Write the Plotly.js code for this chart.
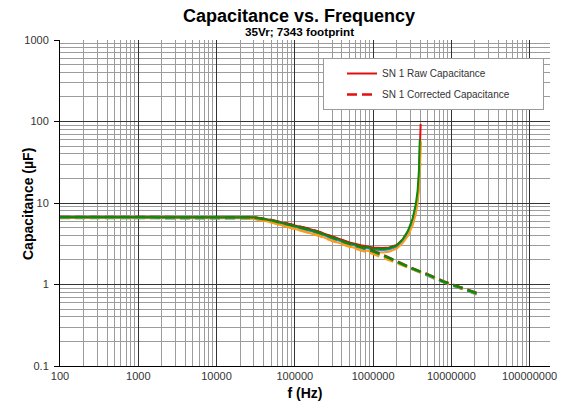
<!DOCTYPE html>
<html>
<head>
<meta charset="utf-8">
<script src="https://cdn.plot.ly/plotly-3.0.1.min.js"></script>
<style>html,body{margin:0;padding:0;background:#fff;}#chart{width:588px;height:416px;}</style>
</head>
<body>
<div id="chart"></div>
<script>
// Raw capacitance (uF) vs frequency (Hz), four samples
const freqRaw = [100, 1000, 10000, 20000, 30000, 50000, 70000, 100000, 150000, 200000, 300000, 500000, 700000, 1000000, 1300000, 1600000, 2000000, 2400000, 2800000, 3200000, 3500000, 3700000, 3850000, 3950000];
const rawRed    = [6.75, 6.75, 6.75, 6.74, 6.68, 6.2, 5.75, 5.35, 4.85, 4.45, 3.87, 3.27, 3.03, 2.84, 2.8, 2.84, 3.05, 3.6, 4.5, 6.1, 8.5, 12, 20, 38];
const rawBlue   = [6.55, 6.55, 6.55, 6.54, 6.5, 6.05, 5.6, 5.1, 4.6, 4.25, 3.7, 3.12, 2.88, 2.68, 2.63, 2.68, 2.9, 3.4, 4.2, 5.7, 7.9, 11, 17, 25];
const rawOrange = [6.6, 6.6, 6.6, 6.55, 6.4, 5.8, 5.3, 4.8, 4.35, 4.0, 3.45, 2.92, 2.68, 2.5, 2.47, 2.52, 2.75, 3.25, 4.0, 5.3, 7.2, 9.8, 14.5, 24];
const rawGreen  = [6.7, 6.7, 6.7, 6.69, 6.62, 6.12, 5.68, 5.22, 4.72, 4.35, 3.8, 3.2, 2.97, 2.76, 2.72, 2.78, 3.0, 3.6, 4.6, 6.5, 9.5, 14, 25, 60];
// final resonance points
const freqEndRed = 4050000, endRed = 93;
const freqEndBlue = 4020000, endBlue = 31;
const freqEndOrange = 4100000, endOrange = 57;

// Corrected capacitance (uF)
const freqCorr = [100, 1000, 10000, 20000, 30000, 50000, 70000, 100000, 150000, 200000, 300000, 500000, 700000, 1000000, 1500000, 2200000, 3000000, 5000000, 8000000, 13000000, 21000000];
const corrRed    = [6.75, 6.75, 6.75, 6.74, 6.68, 6.2, 5.75, 5.35, 4.85, 4.45, 3.85, 3.22, 2.95, 2.6, 2.2, 1.85, 1.62, 1.33, 1.09, 0.93, 0.79];
const corrBlue   = [6.55, 6.55, 6.55, 6.54, 6.5, 6.05, 5.6, 5.1, 4.6, 4.25, 3.68, 3.08, 2.82, 2.5, 2.14, 1.8, 1.58, 1.3, 1.06, 0.9, 0.76];
const corrOrange = [6.6, 6.6, 6.6, 6.55, 6.4, 5.8, 5.3, 4.8, 4.35, 4.0, 3.43, 2.88, 2.62, 2.38, 2.05, 1.77, 1.57, 1.3, 1.07, 0.91, 0.77];
const corrGreen  = [6.7, 6.7, 6.7, 6.69, 6.62, 6.12, 5.68, 5.22, 4.72, 4.35, 3.78, 3.15, 2.88, 2.55, 2.17, 1.83, 1.6, 1.32, 1.08, 0.92, 0.78];

const xTickVals = [100, 1000, 10000, 100000, 1000000, 10000000, 100000000];
const xTickText = ['100', '1000', '10000', '100000', '1000000', '10000000', '100000000'];
const yTickVals = [0.1, 1, 10, 100, 1000];
const yTickText = ['0.1', '1', '10', '100', '1000'];

const legendRaw = 'SN 1 Raw Capacitance';
const legendCorr = 'SN 1 Corrected Capacitance';

const cRed = '#E01010', cBlue = '#2E8FE8', cOrange = '#FF9A1A', cGreen = '#0A8A0A';

function minorVals(lo, hi) {
  const out = [];
  for (let d = lo; d < hi; d *= 10) {
    for (let k = 2; k <= 9; k++) out.push(d * k);
  }
  return out;
}

const pad = '\u00a0'.repeat(10);

const traces = [
  {x: freqRaw.concat([freqEndRed]), y: rawRed.concat([endRed]), name: legendRaw, legendgroup: 'raw', line: {color: cRed, width: 2}},
  {x: freqRaw.concat([freqEndBlue]), y: rawBlue.concat([endBlue]), showlegend: false, line: {color: cBlue, width: 2}},
  {x: freqRaw.concat([freqEndOrange]), y: rawOrange.concat([endOrange]), showlegend: false, line: {color: cOrange, width: 2}},
  {x: freqRaw, y: rawGreen, showlegend: false, line: {color: cGreen, width: 2}},
  {x: freqCorr, y: corrRed, name: legendCorr + pad, legendgroup: 'corr', line: {color: cRed, width: 2.5, dash: '10px,5px'}},
  {x: freqCorr, y: corrBlue, showlegend: false, line: {color: cBlue, width: 2.5, dash: '10px,5px'}},
  {x: freqCorr, y: corrOrange, showlegend: false, line: {color: cOrange, width: 2.5, dash: '10px,5px'}},
  {x: freqCorr, y: corrGreen, showlegend: false, line: {color: cGreen, width: 2.5, dash: '10px,5px'}}
].map(t => Object.assign({type: 'scatter', mode: 'lines', hoverinfo: 'skip'}, t));

const font = 'Liberation Sans, Arial, sans-serif';

const layout = {
  width: 588, height: 416,
  margin: {l: 60, r: 38, t: 40, b: 50, pad: 0},
  paper_bgcolor: '#fff', plot_bgcolor: '#fff',
  font: {family: font, size: 11, color: '#333'},
  title: {text: '<b>Capacitance vs. Frequency</b>', font: {family: font, size: 18, color: '#000'},
          x: 299 / 588, xanchor: 'center', y: 1 - 16 / 416, yanchor: 'middle', xref: 'container', yref: 'container'},
  annotations: [
    {text: '<b>35Vr; 7343 footprint</b>', xref: 'paper', yref: 'paper', x: (299 - 60) / 490, y: (366 - 32) / 326,
     xanchor: 'center', yanchor: 'middle', showarrow: false, font: {family: font, size: 11.7, color: '#000'}},
    {text: '<b>Capacitance (µF)</b>', xref: 'paper', yref: 'paper', x: (28 - 60) / 490, y: (366 - 204) / 326,
     xanchor: 'center', yanchor: 'middle', textangle: -90, showarrow: false, font: {family: font, size: 14, color: '#000'}}
  ],
  showlegend: true,
  legend: {x: (323 - 60) / 490, y: (366 - 58) / 326, xanchor: 'left', yanchor: 'top',
           bgcolor: '#fff', bordercolor: '#9a9a9a', borderwidth: 1, font: {family: font, size: 10, color: '#333'},
           tracegroupgap: 2, indentation: 18, traceorder: 'grouped'},
  xaxis: {type: 'log', range: [2, 8.26], tickvals: xTickVals, ticktext: xTickText,
          showgrid: true, gridcolor: '#333', gridwidth: 1, ticks: '', showline: true, linecolor: '#000', linewidth: 1,
          zeroline: false, tickfont: {family: font, size: 11, color: '#333'},
          minor: {tickvals: minorVals(100, 1e8).concat([2e8]), showgrid: true, gridcolor: '#9c9c9c', gridwidth: 1, ticks: ''},
          title: {text: '<b>f (Hz)</b>', font: {family: font, size: 14, color: '#000'}, standoff: 6}},
  yaxis: {type: 'log', range: [-1, 3], tickvals: yTickVals, ticktext: yTickText,
          showgrid: true, gridcolor: '#333', gridwidth: 1, ticks: 'outside', ticklen: 5, tickcolor: '#000',
          ticklabelstandoff: 3,
          showline: true, linecolor: '#000', linewidth: 1, zeroline: false,
          tickfont: {family: font, size: 11, color: '#333'},
          minor: {tickvals: minorVals(0.1, 1000), showgrid: true, gridcolor: '#9c9c9c', gridwidth: 1, ticks: ''}}
};

Plotly.newPlot('chart', traces, layout, {displayModeBar: false, staticPlot: true});
</script>
</body>
</html>
